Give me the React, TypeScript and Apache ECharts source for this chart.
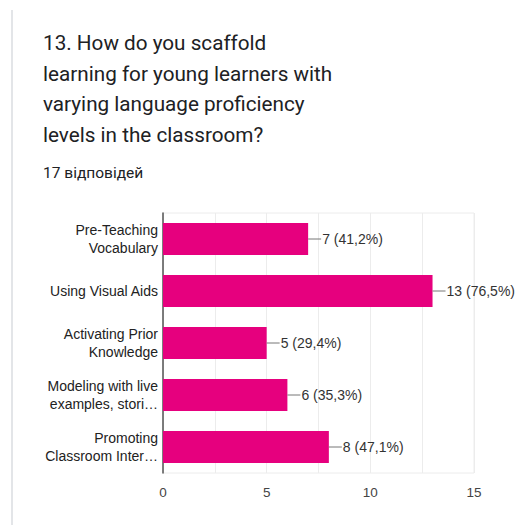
import React, { useEffect, useRef } from "react";
import * as echarts from "echarts";

const categories = [
  "Pre-Teaching\nVocabulary",
  "Using Visual Aids",
  "Activating Prior\nKnowledge",
  "Modeling with live\nexamples, stori…",
  "Promoting\nClassroom Inter…",
];
const counts = [7, 13, 5, 6, 8];
const percents = ["41,2%", "76,5%", "29,4%", "35,3%", "47,1%"];
const titleText = "13. How do you scaffold\nlearning for young learners with\nvarying language proficiency\nlevels in the classroom?";
const subtitleText = "17 відповідей";

export default function App() {
  const ref = useRef<HTMLDivElement>(null);
  useEffect(() => {
    const chart = echarts.init(ref.current!, null, { renderer: "svg" });
    const labelFont = "'Liberation Sans', Arial, sans-serif";
    chart.setOption({
      animation: false,
      backgroundColor: "#ffffff",
      title: [
        {
          text: titleText,
          left: 38,
          top: 23,
          padding: 5,
          textStyle: {
            fontFamily: "Roboto, sans-serif",
            fontSize: 20.7,
            fontWeight: "normal",
            color: "#202124",
            lineHeight: 30.5,
          },
        },
        {
          text: subtitleText,
          left: 38,
          top: 160,
          padding: 5,
          textStyle: {
            fontFamily: "Roboto, sans-serif",
            fontSize: 15.5,
            fontWeight: "normal",
            color: "#202124",
          },
        },
      ],
      graphic: [
        {
          type: "line",
          shape: { x1: 12, y1: 10, x2: 12, y2: 525 },
          style: { stroke: "#dadce0", lineWidth: 1.5 },
        },
      ],
      grid: {
        left: 163,
        right: 52,
        top: 213,
        height: 260,
        show: true,
        borderColor: "#ececec",
        borderWidth: 1,
      },
      xAxis: {
        type: "value",
        min: 0,
        max: 15,
        interval: 5,
        axisLine: { show: false },
        axisTick: { show: false },
        axisLabel: { color: "#444", fontSize: 13.5, fontFamily: labelFont, margin: 12 },
        splitLine: { show: true, lineStyle: { color: "#ececec", width: 1 } },
        minorTick: { show: false, splitNumber: 2 },
        minorSplitLine: { show: true, lineStyle: { color: "#ececec", width: 1 } },
      },
      yAxis: {
        type: "category",
        inverse: true,
        data: categories,
        axisLine: { show: true, lineStyle: { color: "#555", width: 1.5 } },
        axisTick: { show: false },
        axisLabel: {
          color: "#222",
          fontSize: 14,
          fontFamily: labelFont,
          lineHeight: 17.6,
          margin: 5,
          align: "right",
        },
      },
      series: [
        {
          type: "bar",
          data: counts,
          barWidth: 32,
          itemStyle: { color: "#e6007e" },
          label: {
            show: true,
            position: "right",
            distance: 14,
            color: "#333",
            fontSize: 14,
            fontFamily: labelFont,
            formatter: (p: any) => `${counts[p.dataIndex]} (${percents[p.dataIndex]})`,
          },
          z: 2,
        },
        {
          type: "custom",
          data: counts.map((v, i) => [v, i]),
          encode: { x: 0, y: 1 },
          silent: true,
          z: 3,
          renderItem: (params: any, api: any) => {
            const pt = api.coord([api.value(0), api.value(1)]);
            return {
              type: "line",
              shape: { x1: pt[0], y1: pt[1], x2: pt[0] + 13, y2: pt[1] },
              style: { stroke: "#777", lineWidth: 1 },
            };
          },
        },
      ],
    });
    return () => chart.dispose();
  }, []);
  return (
    <div
      ref={ref}
      style={{ position: "fixed", left: 0, top: 0, width: 526, height: 525 }}
    />
  );
}
